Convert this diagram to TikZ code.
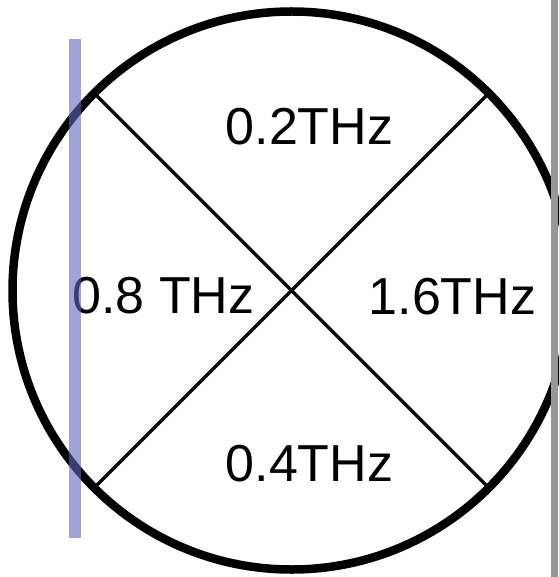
\documentclass[tikz,border=0pt]{standalone}
\usepackage{fontspec}
\setmainfont{Liberation Sans}
\usepackage{tikz}
\usetikzlibrary{calc}

\definecolor{barblue}{RGB}{100,100,190}
\definecolor{edgegray}{RGB}{155,150,150}

\begin{document}
\begin{tikzpicture}[x=1pt, y=-1pt,
    freq/.style={anchor=base, inner sep=0pt, font=\fontsize{52}{62}\selectfont}]
      \useasboundingbox (0,0) rectangle (558,577);
      % Disc split into four frequency sectors
      \coordinate (c) at (291.5,290.5);
      \coordinate (ul) at ($(c)+(-197,-197)$);
      \coordinate (ur) at ($(c)+(197,-197)$);
      \coordinate (ll) at ($(c)+(-197,197)$);
      \coordinate (lr) at ($(c)+(197,197)$);
      \draw[line width=8.5pt] (c) circle (279);
      \draw[line width=3.5pt] (ul) -- (lr);
      \draw[line width=3.5pt] (ur) -- (ll);

      \node[freq] (f02) at (309.5,145) {0.2THz};
      \node[freq] (f08) at (163.5,313) {0.8 THz};
      \node[freq] (f16) at (452.5,314) {1.6THz};
      \node[freq] (f04) at (309.5,481) {0.4THz};

      % Marker bar and right edge strip
      \fill[barblue, opacity=0.6] (69,39) rectangle (81,538);
      \fill[edgegray] (551,0) rectangle (558,577);
    \end{tikzpicture}
\end{document}
